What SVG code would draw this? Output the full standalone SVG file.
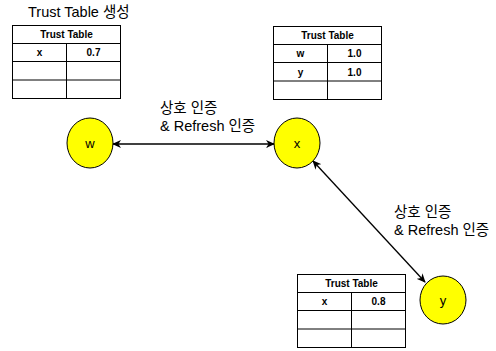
<svg xmlns="http://www.w3.org/2000/svg" width="496" height="351" viewBox="0 0 496 351">
<style>
.cell{fill:#fff;stroke:#000;stroke-width:1}
.tt{font-family:"Liberation Sans",Arial,sans-serif;font-size:10px;font-weight:bold;text-anchor:middle;fill:#000}
.node{fill:#ffff00;stroke:#000;stroke-width:1}
.nl{font-family:"Liberation Sans",Arial,sans-serif;font-size:13px;text-anchor:middle;fill:#000}
.lbl{font-family:"Liberation Sans","Noto Sans CJK KR",sans-serif;font-size:14.5px;fill:#000}
.edge{stroke:#000;stroke-width:1.3;fill:none;marker-start:url(#a);marker-end:url(#a)}
</style>
<defs>
<marker id="a" viewBox="0 0 10 10" refX="9" refY="5" markerWidth="9" markerHeight="9" orient="auto-start-reverse" markerUnits="userSpaceOnUse">
<path d="M0,0.5 L10,5 L0,9.5 L3,5 Z" fill="#000"/>
</marker>
</defs>
<text class="lbl" x="28" y="17">Trust Table 생성</text>
<g id="table-w">
<rect class="cell" x="12.5" y="25.5" width="108" height="73"/>
<path class="cell" d="M12.5,43.5H120.5M12.5,61.5H120.5M12.5,80H120.5M66.5,43.5V98.5"/>
<text class="tt" x="66.5" y="38">Trust Table</text>
<text class="tt" x="39.5" y="56">x</text>
<text class="tt" x="93.5" y="56">0.7</text>
</g>
<g id="table-x">
<rect class="cell" x="273.5" y="26.5" width="108" height="73"/>
<path class="cell" d="M273.5,44.5H381.5M273.5,62.5H381.5M273.5,81H381.5M327.5,44.5V99.5"/>
<text class="tt" x="327.5" y="39">Trust Table</text>
<text class="tt" x="300.5" y="57">w</text>
<text class="tt" x="354.5" y="57">1.0</text>
<text class="tt" x="300.5" y="75.5">y</text>
<text class="tt" x="354.5" y="75.5">1.0</text>
</g>
<g id="table-y">
<rect class="cell" x="297.5" y="274.5" width="108" height="73"/>
<path class="cell" d="M297.5,292.5H405.5M297.5,310.5H405.5M297.5,329H405.5M351.5,292.5V347.5"/>
<text class="tt" x="351.5" y="287">Trust Table</text>
<text class="tt" x="324.5" y="305">x</text>
<text class="tt" x="378.5" y="305">0.8</text>
</g>
<g id="connectors">
<line class="edge" x1="113" y1="144" x2="274" y2="144"/>
<line class="edge" x1="313" y1="161" x2="425" y2="282"/>
<text class="lbl" x="160" y="113">상호 인증</text>
<text class="lbl" x="160" y="131">&amp; Refresh 인증</text>
<text class="lbl" x="394" y="217">상호 인증</text>
<text class="lbl" x="394" y="235">&amp; Refresh 인증</text>
</g>
<g id="node-w">
<ellipse class="node" cx="90" cy="143" rx="23" ry="25"/>
<text class="nl" x="90" y="148">w</text>
</g>
<g id="node-x">
<ellipse class="node" cx="297" cy="143" rx="23" ry="25"/>
<text class="nl" x="297" y="148">x</text>
</g>
<g id="node-y">
<ellipse class="node" cx="443" cy="300" rx="23" ry="24"/>
<text class="nl" x="443" y="305">y</text>
</g>
</svg>
